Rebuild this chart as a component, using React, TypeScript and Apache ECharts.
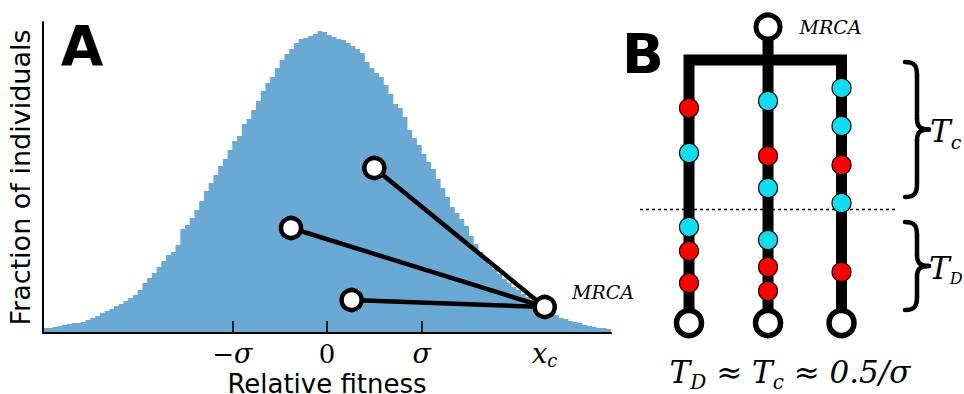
import { useEffect, useRef } from 'react';
import * as echarts from 'echarts';

// ---------- Panel A data ----------
const BIN_START = -3;
const BIN_WIDTH = 0.05;
// histogram heights (arbitrary units), 120 bins from -3σ to +3σ
const histCounts = [
  5, 5, 6, 7, 8, 9, 10, 10, 11, 13,
  15, 17, 20, 22, 24, 27, 29, 32, 35, 38,
  43, 50, 55, 60, 66, 72, 78, 81, 88, 104,
  108, 115, 123, 132, 142, 150, 158, 167, 174, 183,
  192, 197, 209, 214, 223, 232, 242, 250, 256, 265,
  273, 279, 284, 290, 294, 295, 297, 299, 302, 301,
  298, 296, 294, 293, 290, 287, 284, 280, 271, 265,
  260, 256, 248, 239, 229, 225, 216, 203, 195, 188,
  179, 171, 164, 154, 145, 136, 126, 120, 114, 107,
  97, 89, 81, 74, 68, 64, 59, 54, 50, 46,
  43, 39, 36, 33, 30, 27, 24, 21, 18, 15,
  14, 12, 11, 10, 8, 7, 6, 5, 5, 4,
];
const Y_MAX_A = 311;
const TICK_LEN = 12;
const sigmaTicks = [-1, 0, 1];
const tickLabelValues = [-1, 0, 1, 2.3];
const mrcaA: [number, number] = [2.3, 26];
const descendantsA: [number, number][] = [
  [0.5, 165],
  [-0.38, 105],
  [0.26, 33],
];

// ---------- Panel B data ----------
const lineageX = [0, 1, 1.93];
const tipTime = 0;
const splitTime = 26.3;
const mrcaTime = 29.6;
const divideTime = 11.4;
const redMutations: [number, number][] = [
  [0, 21.5], [0, 7.2], [0, 4.0],
  [1, 16.7], [1, 5.6], [1, 3.2],
  [1.93, 15.8], [1.93, 5.1],
];
const cyanMutations: [number, number][] = [
  [0, 17.0], [0, 9.6],
  [1, 22.2], [1, 13.5], [1, 8.3],
  [1.93, 23.5], [1.93, 19.7], [1.93, 12.0],
];

const SERIF = '"DejaVu Serif", serif';
const SANS = '"DejaVu Sans", sans-serif';

function brace(x0: number, y0: number, y1: number, depth: number, tip: number) {
  const xs = x0 + depth;
  const xt = x0 + tip;
  const ym = (y0 + y1) / 2;
  const st = { stroke: '#000', lineWidth: 4.5, fill: 'none', lineCap: 'round' };
  return [
    { type: 'bezierCurve', shape: { x1: x0, y1: y0, cpx1: x0 + depth * 0.8, cpy1: y0, cpx2: xs, cpy2: y0 + 4, x2: xs, y2: y0 + 13 }, style: st },
    { type: 'line', shape: { x1: xs, y1: y0 + 13, x2: xs, y2: ym - 11 }, style: st },
    { type: 'bezierCurve', shape: { x1: xs, y1: ym - 11, cpx1: xs, cpy1: ym - 3, cpx2: xs + 3, cpy2: ym, x2: xt, y2: ym }, style: st },
    { type: 'bezierCurve', shape: { x1: xt, y1: ym, cpx1: xs + 3, cpy1: ym, cpx2: xs, cpy2: ym + 3, x2: xs, y2: ym + 11 }, style: st },
    { type: 'line', shape: { x1: xs, y1: ym + 11, x2: xs, y2: y1 - 13 }, style: st },
    { type: 'bezierCurve', shape: { x1: xs, y1: y1 - 13, cpx1: xs, cpy1: y1 - 4, cpx2: x0 + depth * 0.8, cpy2: y1, x2: x0, y2: y1 }, style: st },
  ];
}

export default function App() {
  const ref = useRef<HTMLDivElement>(null);

  useEffect(() => {
    if (!ref.current) return;
    const chart = echarts.init(ref.current, null, { renderer: 'svg' });

    const histData: [number, number][] = [[BIN_START, histCounts[0]]];
    histCounts.forEach((h, i) => histData.push([BIN_START + BIN_WIDTH * (i + 0.5), h]));
    histData.push([BIN_START + BIN_WIDTH * histCounts.length, histCounts[histCounts.length - 1]]);

    const tickFormatter = (v: number) => {
      if (Math.abs(v + 1) < 1e-6) return '{n|−}{i|σ}';
      if (Math.abs(v) < 1e-6) return '{n|0}';
      if (Math.abs(v - 1) < 1e-6) return '{i|σ}';
      return '{i|x}{s|c}';
    };

    const subRich = (tSize: number, sSize: number, pad: number) => ({
      t: { fontFamily: SERIF, fontStyle: 'italic', fontSize: tSize, lineHeight: tSize, fill: '#000' },
      o: { fontFamily: SERIF, fontSize: tSize, lineHeight: tSize, fill: '#000' },
      s: { fontFamily: SERIF, fontStyle: 'italic', fontSize: sSize, lineHeight: sSize, padding: [pad, 0, 0, 0], fill: '#000' },
    });

    const option: any = {
      animation: false,
      grid: [
        { left: 43, right: 353, top: 22, bottom: 61, outerBoundsMode: 'none', containLabel: false },
        { left: 640, right: 64, top: 10, bottom: 71, outerBoundsMode: 'none', containLabel: false },
      ],
      xAxis: [
        {
          gridIndex: 0, type: 'value', min: -3, max: 3, z: 10,
          axisLine: { show: true, onZero: false, lineStyle: { color: '#000', width: 2 } },
          axisTick: { show: false },
          axisLabel: {
            show: true, customValues: tickLabelValues, formatter: tickFormatter, margin: 4.5,
            color: '#000', fontFamily: SERIF, fontSize: 26, lineHeight: 32,
            rich: {
              n: { fontFamily: SERIF, fontSize: 26, lineHeight: 32, color: '#000' },
              i: { fontFamily: SERIF, fontStyle: 'italic', fontSize: 27, lineHeight: 32, color: '#000' },
              s: { fontFamily: SERIF, fontStyle: 'italic', fontSize: 18, lineHeight: 18, padding: [14, 0, 0, 0], color: '#000' },
            },
          },
          splitLine: { show: false },
          name: 'Relative fitness', nameLocation: 'middle', nameGap: 39.5, nameMoveOverlap: false,
          nameTextStyle: { color: '#000', fontFamily: SANS, fontSize: 26, lineHeight: 22 },
        },
        { gridIndex: 1, type: 'value', min: -0.62, max: 2.67, show: false },
      ],
      yAxis: [
        {
          gridIndex: 0, type: 'value', min: 0, max: Y_MAX_A, z: 10,
          axisLine: { show: true, onZero: false, lineStyle: { color: '#000', width: 2 } },
          axisTick: { show: false }, axisLabel: { show: false }, splitLine: { show: false },
          name: 'Fraction of individuals', nameLocation: 'middle', nameGap: 9, nameMoveOverlap: false,
          nameTextStyle: { color: '#000', fontFamily: SANS, fontSize: 27 },
        },
        { gridIndex: 1, type: 'value', min: 0, max: 31.3, show: false },
      ],
      series: [
        {
          type: 'line', xAxisIndex: 0, yAxisIndex: 0, data: histData, step: 'middle',
          showSymbol: false, symbol: 'none', lineStyle: { width: 0, opacity: 0 },
          areaStyle: { color: '#6ba9d5', opacity: 1 }, z: 1, silent: true,
        },
        {
          // inward tick marks at -σ, 0, σ
          type: 'lines', coordinateSystem: 'cartesian2d', xAxisIndex: 0, yAxisIndex: 0,
          data: sigmaTicks.map((v) => ({ coords: [[v, 0], [v, TICK_LEN]] })),
          lineStyle: { color: '#000', width: 1.6, opacity: 1 }, z: 9, silent: true,
        },
        {
          type: 'lines', coordinateSystem: 'cartesian2d', xAxisIndex: 0, yAxisIndex: 0,
          data: descendantsA.map((p) => ({ coords: [mrcaA, p] })),
          lineStyle: { color: '#000', width: 4.5, opacity: 1, curveness: 0 }, z: 11,
        },
        {
          type: 'scatter', xAxisIndex: 0, yAxisIndex: 0, symbolSize: 20,
          itemStyle: { color: '#fff', borderColor: '#000', borderWidth: 4.5, opacity: 1 },
          data: [
            ...descendantsA,
            {
              value: mrcaA,
              label: {
                show: true, formatter: 'MRCA', position: 'right', distance: 15, offset: [0, -15],
                fontFamily: SERIF, fontStyle: 'italic', fontSize: 19, color: '#000',
              },
            },
          ],
          z: 12,
        },
        // Panel B
        {
          type: 'lines', coordinateSystem: 'cartesian2d', xAxisIndex: 1, yAxisIndex: 1,
          data: [{ coords: [[-0.62, divideTime], [2.63, divideTime]] }],
          lineStyle: { color: '#000', width: 1.3, opacity: 1, type: [3, 3] }, z: 1,
        },
        {
          type: 'lines', coordinateSystem: 'cartesian2d', xAxisIndex: 1, yAxisIndex: 1, polyline: true,
          data: [
            { coords: [[lineageX[0], tipTime], [lineageX[0], splitTime], [lineageX[2], splitTime], [lineageX[2], tipTime]] },
            { coords: [[lineageX[1], tipTime], [lineageX[1], mrcaTime]] },
          ],
          lineStyle: { color: '#000', width: 11, opacity: 1, join: 'miter', cap: 'butt' }, z: 3,
        },
        {
          type: 'scatter', xAxisIndex: 1, yAxisIndex: 1, symbolSize: 25,
          itemStyle: { color: '#fff', borderColor: '#000', borderWidth: 5.5, opacity: 1 },
          data: lineageX.map((x) => [x, tipTime]), z: 4,
        },
        {
          type: 'scatter', xAxisIndex: 1, yAxisIndex: 1, symbolSize: 24,
          itemStyle: { color: '#fff', borderColor: '#000', borderWidth: 5, opacity: 1 },
          data: [
            {
              value: [lineageX[1], mrcaTime],
              label: {
                show: true, formatter: 'MRCA', position: 'right', distance: 17,
                fontFamily: SERIF, fontStyle: 'italic', fontSize: 19, color: '#000',
              },
            },
          ],
          z: 4,
        },
        {
          type: 'scatter', xAxisIndex: 1, yAxisIndex: 1, symbolSize: 19, data: redMutations,
          itemStyle: { color: '#ff0000', borderColor: '#000', borderWidth: 1.2, opacity: 1 }, z: 5,
        },
        {
          type: 'scatter', xAxisIndex: 1, yAxisIndex: 1, symbolSize: 19, data: cyanMutations,
          itemStyle: { color: '#12dcef', borderColor: '#000', borderWidth: 1.2, opacity: 1 }, z: 5,
        },
      ],
      graphic: [
        { type: 'text', x: 82, y: 46, style: { text: 'A', fontFamily: SANS, fontWeight: 'bold', fontSize: 55, fill: '#000', align: 'center', verticalAlign: 'middle' } },
        { type: 'text', x: 643, y: 54, style: { text: 'B', fontFamily: SANS, fontWeight: 'bold', fontSize: 55, fill: '#000', align: 'center', verticalAlign: 'middle' } },
        { type: 'group', children: brace(905, 62, 197, 12, 24) },
        { type: 'group', children: brace(905, 222, 310, 12, 24) },
        {
          type: 'text', x: 930, y: 131,
          style: { text: '{t|T}{s|c}', align: 'left', verticalAlign: 'middle', rich: subRich(31, 19, 21) },
        },
        {
          type: 'text', x: 929, y: 268,
          style: { text: '{t|T}{s|D}', align: 'left', verticalAlign: 'middle', rich: subRich(31, 16, 21) },
        },
        {
          type: 'text', x: 790, y: 372,
          style: { text: '{t|T}{s|D}{o| ≈ }{t|T}{s|c}{o| ≈ }{t|0.5/σ}', align: 'center', verticalAlign: 'middle', rich: subRich(31, 20, 20) },
        },
      ],
    };

    chart.setOption(option);
    return () => chart.dispose();
  }, []);

  return <div ref={ref} style={{ position: 'fixed', left: 0, top: 0, width: 964, height: 394, background: '#fff' }} />;
}
